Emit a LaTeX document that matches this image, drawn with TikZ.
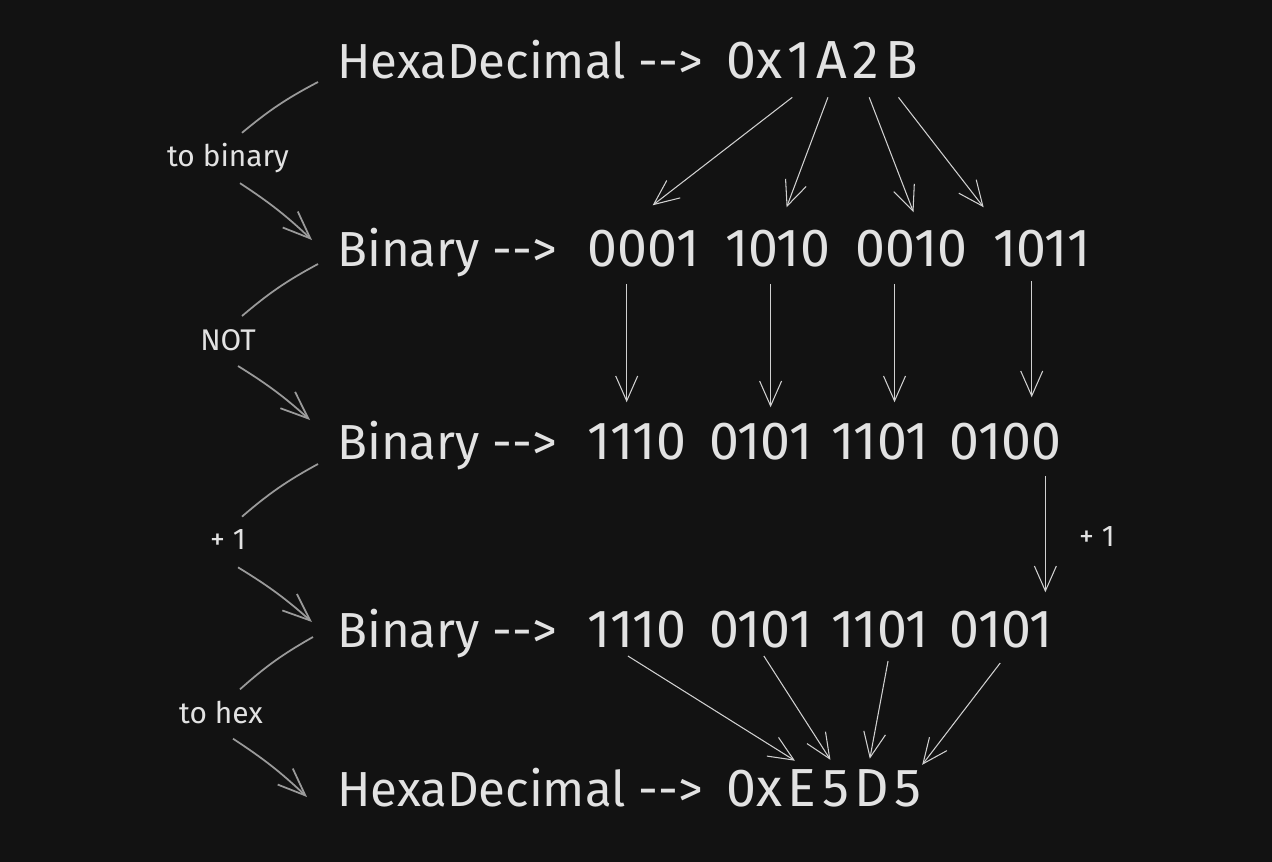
\documentclass[tikz,border=0pt]{standalone}
\usepackage{fontspec}
\setmainfont{Fira Sans}[Ligatures=TeXOff]
\usetikzlibrary{arrows.meta,positioning,calc}
\definecolor{board}{HTML}{121212}
\definecolor{chalk}{HTML}{E2E2E2}
\definecolor{stroke}{HTML}{D0D0D0}
\definecolor{pencil}{HTML}{9A9A9A}
\tikzset{
	big/.style={text=chalk, inner sep=0pt, font=\fontsize{28}{32}\selectfont},
	num/.style={big, font=\fontsize{30.5}{34}\selectfont},
	tag/.style={text=chalk, inner sep=0.2cm, font=\fontsize{17}{20}\selectfont},
	flow/.style={draw=stroke, line width=0.6pt, -{Straight Barb[length=0.5cm,width=0.44cm]}},
	hint/.style={draw=pencil, line width=1pt},
	hintarrow/.style={hint, -{Straight Barb[length=0.55cm,width=0.44cm]}}
}

\begin{document}
\begin{tikzpicture}[x=0.02cm, y=-0.02cm]
    \fill[board] (0,0) rectangle (1272,862);
    \useasboundingbox (0,0) rectangle (1272,862);

    % first row: the hex number
    \node[big, anchor=base west] (hexin) at (337,78) {HexaDecimal -->};
    \node[num, base right=0.45cm of hexin] (hx0) {0x};
    \node[num, base right=0.1cm of hx0] (hx1) {1};
    \node[num, base right=0.1cm of hx1] (hx2) {A};
    \node[num, base right=0.1cm of hx2] (hx3) {2};
    \node[num, base right=0.1cm of hx3] (hx4) {B};

    % second row: binary
    \node[big, anchor=base west] (bin) at (337,266) {Binary -->};
    \node[num, base right=0.6cm of bin] (bina) {0001};
    \node[num, base right=0.5cm of bina] (binb) {1010};
    \node[num, base right=0.5cm of binb] (binc) {0010};
    \node[num, base right=0.5cm of binc] (bind) {1011};

    % third row: inverted
    \node[big, anchor=base west] (inv) at (337,459) {Binary -->};
    \node[num, base right=0.6cm of inv] (inva) {1110};
    \node[num, base right=0.45cm of inva] (invb) {0101};
    \node[num, base right=0.36cm of invb] (invc) {1101};
    \node[num, base right=0.4cm of invc] (invd) {0100};

    % fourth row: plus one
    \node[big, anchor=base west] (inc) at (337,647) {Binary -->};
    \node[num, base right=0.6cm of inc] (inca) {1110};
    \node[num, base right=0.45cm of inca] (incb) {0101};
    \node[num, base right=0.36cm of incb] (incc) {1101};
    \node[num, base right=0.4cm of incc] (incd) {0101};

    % last row: hex again
    \node[big, anchor=base west] (hexout) at (337,806) {HexaDecimal -->};
    \node[num, base right=0.45cm of hexout] (hy0) {0x};
    \node[num, base right=0.1cm of hy0] (hy1) {E};
    \node[num, base right=0.1cm of hy1] (hy2) {5};
    \node[num, base right=0.1cm of hy2] (hy3) {D};
    \node[num, base right=0.1cm of hy3] (hy4) {5};

    % step labels
    \node[tag] (tobin) at (228,158) {to binary};
    \node[tag] (nott) at (228,340) {NOT};
    \node[tag] (plus) at (228,540) {+ 1};
    \node[tag] (tohex) at (221,713) {to hex};
    \node[tag] (plusr) at (1097,537) {+ 1};

    % left side steps
    \draw[hint] ([shift={(-19,4)}]hexin.base west) to[bend right=6] ([shift={(14,0)}]tobin.north);
    \draw[hintarrow] ([shift={(12,0)}]tobin.south) to[bend left=5] ([shift={(-25,-26)}]bin.base west);
    \draw[hint] ([shift={(-19,-2)}]bin.base west) to[bend right=6] ([shift={(14,-3)}]nott.north);
    \draw[hintarrow] ([shift={(10,5)}]nott.south) to[bend left=5] ([shift={(-27,-39)}]inv.base west);
    \draw[hint] ([shift={(-19,5)}]inv.base west) to[bend right=6] ([shift={(14,-3)}]plus.north);
    \draw[hintarrow] ([shift={(10,7)}]plus.south) to[bend left=5] ([shift={(-25,-25)}]inc.base west);
    \draw[hint] ([shift={(-24,-10)}]inc.base west) to[bend right=6] ([shift={(19,-2)}]tohex.north);
    \draw[hintarrow] ([shift={(12,4)}]tohex.south) to[bend left=5] ([shift={(-30,-9)}]hexout.base west);

    % hex digit -> nibble
    \draw[flow] ([shift={(-7,19)}]hx1.south) -- ([shift={(9,-24)}]bina.north);
    \draw[flow] ([shift={(-4,19)}]hx2.south) -- ([shift={(9,-22)}]binb.north);
    \draw[flow] ([shift={(3,19)}]hx3.south) -- ([shift={(2,-17)}]binc.north);
    \draw[flow] ([shift={(-3,19)}]hx4.south) -- ([shift={(-9,-22)}]bind.north west);

    % NOT on each nibble
    \draw[flow] ([shift={(-17,17)}]bina.south) -- ($(bina.south |- inva.north)+(-17,-20)$);
    \draw[flow] ([shift={(-7,17)}]binb.south) -- ($(binb.south |- invb.north)+(-7,-15)$);
    \draw[flow] ([shift={(-17,17)}]binc.south) -- ($(binc.south |- invc.north)+(-17,-20)$);
    \draw[flow] ([shift={(-10,14)}]bind.south) -- ($(bind.south |- invd.north)+(-10,-25)$);

    % add one
    \draw[flow] ([shift={(-16,16)}]invd.south east) -- ($(invd.south east |- incd.north)+(-16,-18)$);

    % nibble -> hex digit
    \draw[flow] ([shift={(-9,8)}]inca.south) -- ([shift={(-7,-8)}]hy1.north);
    \draw[flow] ([shift={(3,8)}]incb.south) -- ([shift={(-5,-10)}]hy2.north);
    \draw[flow] ([shift={(8,13)}]incc.south) -- ([shift={(-2,-10)}]hy3.north);
    \draw[flow] ([shift={(-1,15)}]incd.south) -- ([shift={(14,-5)}]hy4.north);
\end{tikzpicture}
\end{document}
